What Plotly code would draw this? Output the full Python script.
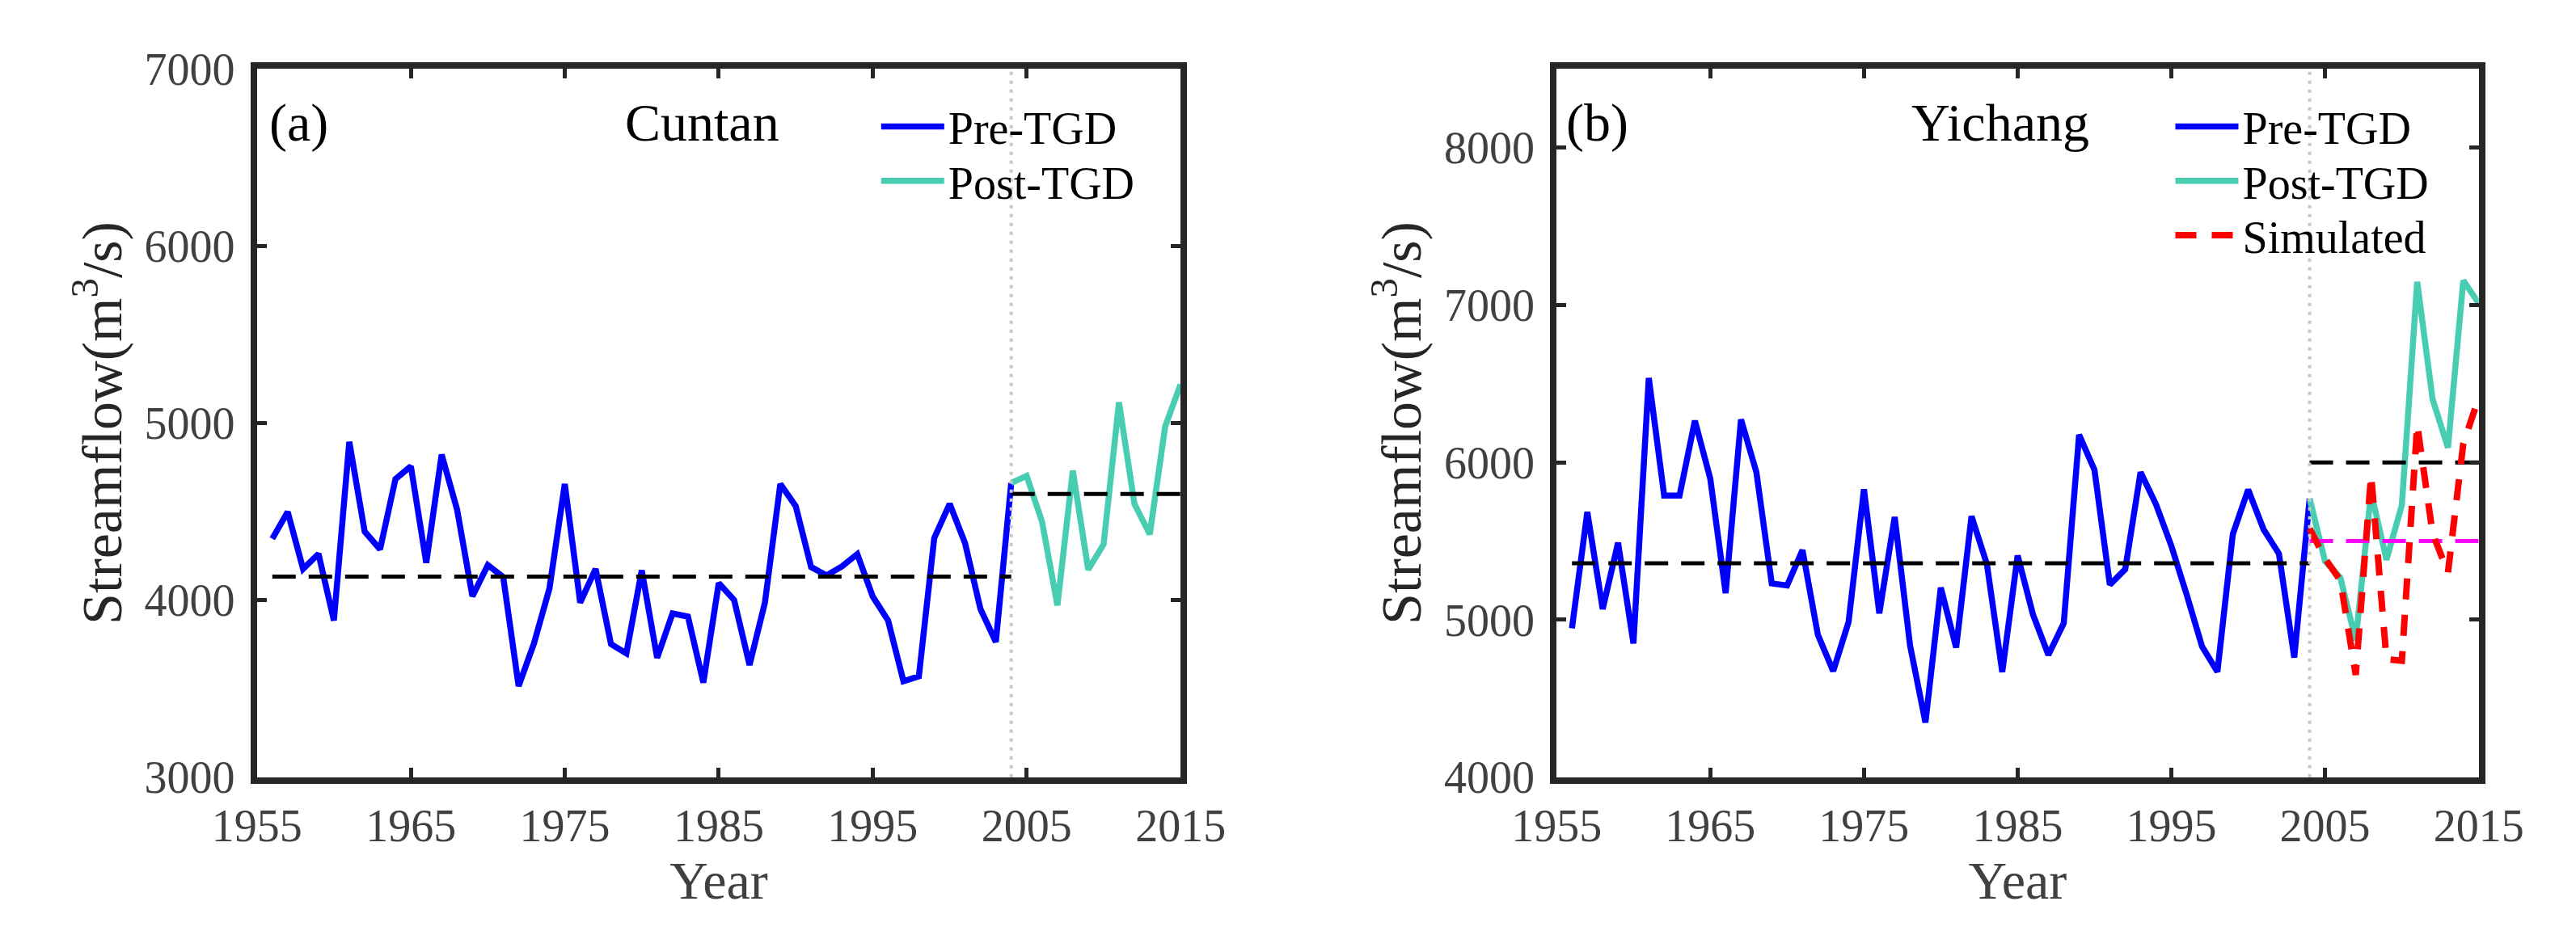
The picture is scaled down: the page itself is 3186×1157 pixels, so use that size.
import plotly.graph_objects as go

FIG_W, FIG_H = 3186, 1157

# ---------------- data ----------------
years_pre = list(range(1956, 2005))
years_post = list(range(2004, 2016))
TGD_YEAR = 2004

cuntan_pre = [4347, 4498, 4176, 4261, 3885, 4894, 4387, 4287, 4684, 4756,
              4211, 4822, 4512, 4022, 4198, 4130, 3515, 3756, 4065, 4656,
              3986, 4176, 3752, 3699, 4168, 3674, 3925, 3907, 3534, 4096,
              4000, 3634, 3986, 4656, 4531, 4187, 4140, 4190, 4260, 4021,
              3885, 3542, 3570, 4351, 4544, 4322, 3950, 3764, 4662]
cuntan_post = [4662, 4702, 4444, 3971, 4731, 4172, 4315, 5117, 4544, 4372, 4981, 5218]

yichang_pre = [4946, 5685, 5068, 5490, 4850, 6537, 5789, 5789, 6265, 5897,
               5169, 6273, 5938, 5231, 5218, 5443, 4905, 4674, 4986, 5829,
               5041, 5653, 4837, 4347, 5204, 4823, 5658, 5354, 4668, 5408,
               5033, 4777, 4978, 6175, 5952, 5223, 5321, 5938, 5734, 5470,
               5160, 4830, 4670, 5543, 5827, 5575, 5421, 4760, 5770]
yichang_post = [5770, 5373, 5267, 4870, 5810, 5381, 5729, 7147, 6402, 6094, 7156, 7010]
yichang_sim = [5580, 5390, 5250, 4650, 5920, 4750, 4740, 6240, 5550, 5300, 6120, 6410]

cuntan_pre_mean = 4133
cuntan_post_mean = 4600
yichang_pre_mean = 5359
yichang_post_mean = 6000
yichang_sim_mean = 5500

x_ticks = [1955, 1965, 1975, 1985, 1995, 2005, 2015]
x_range = [1955, 2015]
ya_ticks = [3000, 4000, 5000, 6000, 7000]
ya_range = [3000, 7000]
yb_ticks = [4000, 5000, 6000, 7000, 8000]
yb_range = [4000, 8500]

# ---------------- style ----------------
FONT = "Liberation Serif, 'Times New Roman', Times, serif"
AX_COL = "#262626"
TICK_COL = "#404040"
BLUE = "#0000ff"
GREEN = "#48cdb3"
RED = "#ff0000"
MAGENTA = "#ff00ff"
GRAY = "#c8c8c8"
LW = 7.5

dom_a = [263 / FIG_W, 1447 / FIG_W]
dom_b = [1929 / FIG_W, 3111 / FIG_W]
dom_y = [1 - 976 / FIG_H, 1 - 50 / FIG_H]

fig = go.Figure()

def series(x, y, color, name, xa, ya, legend=None, dash="solid", width=LW):
    fig.add_trace(go.Scatter(
        x=x, y=y, mode="lines", name=name, showlegend=legend is not None,
        legend=legend or "legend",
        line=dict(color=color, width=width, dash=dash),
        xaxis=xa, yaxis=ya, hoverinfo="skip"))

MEAN_DASH = "29px,16px"

# panel (a)
series(years_pre, cuntan_pre, BLUE, "Pre-TGD", "x", "y", "legend")
series(years_post, cuntan_post, GREEN, "Post-TGD", "x", "y", "legend2")
series([years_pre[0], years_pre[-1]], [cuntan_pre_mean] * 2, "black", "pre mean",
       "x", "y", dash=MEAN_DASH, width=5)
series([years_post[0], years_post[-1]], [cuntan_post_mean] * 2, "black", "post mean",
       "x", "y", dash=MEAN_DASH, width=5)

# panel (b)
series(years_pre, yichang_pre, BLUE, "Pre-TGD", "x2", "y2", "legend3")
series(years_post, yichang_post, GREEN, "Post-TGD", "x2", "y2", "legend4")
series([years_pre[0], years_pre[-1]], [yichang_pre_mean] * 2, "black", "pre mean",
       "x2", "y2", dash=MEAN_DASH, width=5)
series([years_post[0], years_post[-1]], [yichang_post_mean] * 2, "black", "post mean",
       "x2", "y2", dash=MEAN_DASH, width=5)
series([years_post[0], years_post[-1]], [yichang_sim_mean] * 2, MAGENTA, "sim mean",
       "x2", "y2", dash=MEAN_DASH, width=5)
series(years_post, yichang_sim, RED, "Simulated", "x2", "y2", "legend5",
       dash="26px,19px", width=8)

def xaxis(domain, anchor):
    return dict(domain=domain, anchor=anchor, range=x_range, tickvals=x_ticks,
                ticktext=[str(v) for v in x_ticks], showgrid=False, zeroline=False,
                showline=True, linecolor=AX_COL, linewidth=8, mirror="ticks",
                ticks="inside", ticklen=12, tickwidth=4.5, tickcolor=AX_COL,
                ticklabelstandoff=4,
                tickfont=dict(family=FONT, size=56, color=TICK_COL),
                title=dict(text="Year", font=dict(family=FONT, size=66, color=TICK_COL),
                           standoff=11))

def yaxis(domain, anchor, rng, ticks):
    return dict(domain=domain, anchor=anchor, range=rng, tickvals=ticks,
                ticktext=[str(v) for v in ticks], showgrid=False, zeroline=False,
                showline=True, linecolor=AX_COL, linewidth=8, mirror="ticks",
                ticks="inside", ticklen=12, tickwidth=4.5, tickcolor=AX_COL,
                ticklabelstandoff=8,
                tickfont=dict(family=FONT, size=56, color=TICK_COL),
                title=dict(text="Streamflow(m<sup>3</sup>/s)",
                           font=dict(family=FONT, size=70, color=AX_COL),
                           standoff=8))

def legend_at(x_px, top_px):
    return dict(x=x_px / FIG_W, y=1 - top_px / FIG_H, xanchor="left", yanchor="top",
                bgcolor="rgba(0,0,0,0)", font=dict(family=FONT, size=56, color="black"),
                itemwidth=78, borderwidth=0)

ROW1, ROW2, ROW3 = 80, 151, 222

fig.update_layout(
    width=FIG_W, height=FIG_H,
    margin=dict(l=0, r=0, t=0, b=0),
    paper_bgcolor="white", plot_bgcolor="white",
    xaxis=xaxis(dom_a, "y"), yaxis=yaxis(dom_y, "x", ya_range, ya_ticks),
    xaxis2=xaxis(dom_b, "y2"), yaxis2=yaxis(dom_y, "x2", yb_range, yb_ticks),
    legend=legend_at(1058, ROW1),
    legend2=legend_at(1058, ROW2),
    legend3=legend_at(2717, ROW1),
    legend4=legend_at(2717, ROW2),
    legend5=legend_at(2717, ROW3),
    shapes=[
        dict(type="line", xref="x", yref="y domain", x0=TGD_YEAR, x1=TGD_YEAR,
             y0=0, y1=1, layer="above", line=dict(color=GRAY, width=4, dash="4px,7px")),
        dict(type="line", xref="x2", yref="y2 domain", x0=TGD_YEAR, x1=TGD_YEAR,
             y0=0, y1=1, layer="above", line=dict(color=GRAY, width=4, dash="4px,7px")),
    ],
    annotations=[
        dict(text="(a)", xref="paper", yref="paper", x=277 / FIG_W, y=1 - 120 / FIG_H,
             xanchor="left", yanchor="middle", showarrow=False,
             font=dict(family=FONT, size=66, color="black")),
        dict(text="Cuntan", xref="paper", yref="paper", x=733 / FIG_W, y=1 - 120 / FIG_H,
             xanchor="left", yanchor="middle", showarrow=False,
             font=dict(family=FONT, size=66, color="black")),
        dict(text="(b)", xref="paper", yref="paper", x=1939 / FIG_W, y=1 - 120 / FIG_H,
             xanchor="left", yanchor="middle", showarrow=False,
             font=dict(family=FONT, size=66, color="black")),
        dict(text="Yichang", xref="paper", yref="paper", x=2382 / FIG_W, y=1 - 120 / FIG_H,
             xanchor="left", yanchor="middle", showarrow=False,
             font=dict(family=FONT, size=66, color="black")),
    ],
)

fig.write_html("out.html")
